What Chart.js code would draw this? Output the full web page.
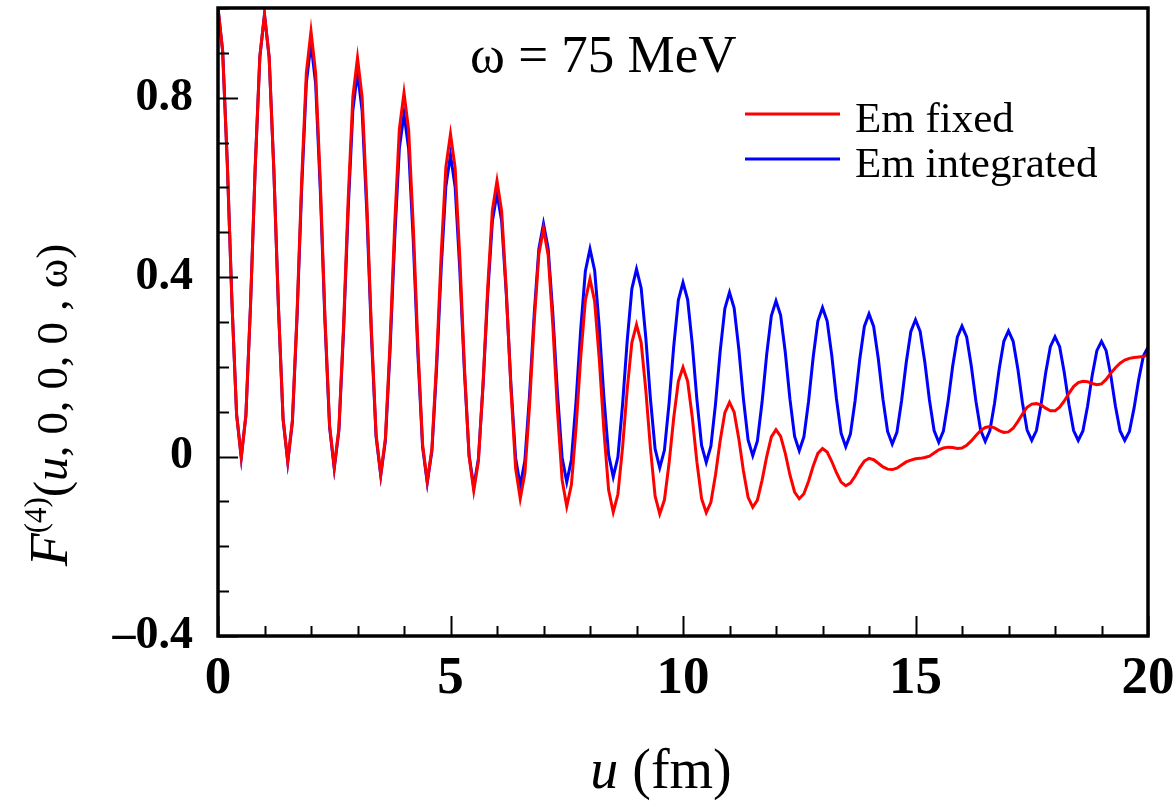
<!DOCTYPE html>
<html>
<head>
<meta charset="utf-8">
<script src="https://cdn.jsdelivr.net/npm/chart.js@4.4.1/dist/chart.umd.min.js"></script>
<style>
  html, body { margin: 0; padding: 0; background: #ffffff; }
  #c { display: block; }
</style>
</head>
<body>
<canvas id="c" width="1175" height="801"></canvas>
<script>
// ---------------- data ----------------
const uValues = [
  0.0, 0.1, 0.2, 0.3, 0.4, 0.5, 0.6, 0.7, 0.8, 0.9,
  1.0, 1.1, 1.2, 1.3, 1.4, 1.5, 1.6, 1.7, 1.8, 1.9,
  2.0, 2.1, 2.2, 2.3, 2.4, 2.5, 2.6, 2.7, 2.8, 2.9,
  3.0, 3.1, 3.2, 3.3, 3.4, 3.5, 3.6, 3.7, 3.8, 3.9,
  4.0, 4.1, 4.2, 4.3, 4.4, 4.5, 4.6, 4.7, 4.8, 4.9,
  5.0, 5.1, 5.2, 5.3, 5.4, 5.5, 5.6, 5.7, 5.8, 5.9,
  6.0, 6.1, 6.2, 6.3, 6.4, 6.5, 6.6, 6.7, 6.8, 6.9,
  7.0, 7.1, 7.2, 7.3, 7.4, 7.5, 7.6, 7.7, 7.8, 7.9,
  8.0, 8.1, 8.2, 8.3, 8.4, 8.5, 8.6, 8.7, 8.8, 8.9,
  9.0, 9.1, 9.2, 9.3, 9.4, 9.5, 9.6, 9.7, 9.8, 9.9,
  10.0, 10.1, 10.2, 10.3, 10.4, 10.5, 10.6, 10.7, 10.8, 10.9,
  11.0, 11.1, 11.2, 11.3, 11.4, 11.5, 11.6, 11.7, 11.8, 11.9,
  12.0, 12.1, 12.2, 12.3, 12.4, 12.5, 12.6, 12.7, 12.8, 12.9,
  13.0, 13.1, 13.2, 13.3, 13.4, 13.5, 13.6, 13.7, 13.8, 13.9,
  14.0, 14.1, 14.2, 14.3, 14.4, 14.5, 14.6, 14.7, 14.8, 14.9,
  15.0, 15.1, 15.2, 15.3, 15.4, 15.5, 15.6, 15.7, 15.8, 15.9,
  16.0, 16.1, 16.2, 16.3, 16.4, 16.5, 16.6, 16.7, 16.8, 16.9,
  17.0, 17.1, 17.2, 17.3, 17.4, 17.5, 17.6, 17.7, 17.8, 17.9,
  18.0, 18.1, 18.2, 18.3, 18.4, 18.5, 18.6, 18.7, 18.8, 18.9,
  19.0, 19.1, 19.2, 19.3, 19.4, 19.5, 19.6, 19.7, 19.8, 19.9,
  20.0
];

const emFixed = [
  1.000, 0.904, 0.654, 0.344, 0.094, -0.002, 0.092, 0.339, 0.645, 0.892,
  0.986, 0.891, 0.642, 0.334, 0.084, -0.011, 0.081, 0.320, 0.617, 0.856,
  0.948, 0.855, 0.612, 0.312, 0.069, -0.024, 0.063, 0.291, 0.574, 0.802,
  0.889, 0.800, 0.568, 0.281, 0.049, -0.040, 0.041, 0.254, 0.517, 0.730,
  0.811, 0.728, 0.512, 0.244, 0.027, -0.056, 0.018, 0.212, 0.451, 0.645,
  0.719, 0.643, 0.444, 0.199, 0.000, -0.076, -0.010, 0.163, 0.376, 0.549,
  0.615, 0.547, 0.370, 0.151, -0.026, -0.094, -0.037, 0.114, 0.300, 0.451,
  0.508, 0.449, 0.294, 0.103, -0.052, -0.111, -0.063, 0.064, 0.221, 0.348,
  0.396, 0.346, 0.216, 0.056, -0.074, -0.124, -0.084, 0.020, 0.150, 0.254,
  0.294, 0.254, 0.148, 0.018, -0.088, -0.128, -0.097, -0.015, 0.086, 0.168,
  0.199, 0.168, 0.087, -0.013, -0.094, -0.125, -0.102, -0.040, 0.036, 0.098,
  0.121, 0.099, 0.040, -0.032, -0.091, -0.113, -0.097, -0.053, 0.000, 0.044,
  0.060, 0.045, 0.007, -0.041, -0.079, -0.094, -0.083, -0.055, -0.021, 0.007,
  0.018, 0.010, -0.011, -0.036, -0.057, -0.065, -0.059, -0.044, -0.025, -0.010,
  -0.004, -0.007, -0.015, -0.023, -0.028, -0.029, -0.026, -0.019, -0.012, -0.008,
  -0.005, -0.004, -0.002, 0.001, 0.008, 0.015, 0.019, 0.021, 0.020, 0.018,
  0.019, 0.025, 0.035, 0.047, 0.058, 0.065, 0.067, 0.064, 0.058, 0.054,
  0.055, 0.063, 0.078, 0.095, 0.110, 0.117, 0.118, 0.115, 0.108, 0.102,
  0.102, 0.110, 0.124, 0.141, 0.156, 0.165, 0.168, 0.167, 0.163, 0.160,
  0.162, 0.172, 0.186, 0.198, 0.208, 0.215, 0.219, 0.221, 0.222, 0.223,
  0.227
];

const emIntegrated = [
  1.000, 0.904, 0.654, 0.344, 0.094, -0.002, 0.092, 0.339, 0.644, 0.891,
  0.985, 0.890, 0.641, 0.332, 0.083, -0.012, 0.077, 0.311, 0.599, 0.833,
  0.922, 0.831, 0.594, 0.302, 0.065, -0.026, 0.058, 0.279, 0.551, 0.772,
  0.856, 0.770, 0.546, 0.268, 0.044, -0.042, 0.035, 0.236, 0.486, 0.687,
  0.764, 0.686, 0.480, 0.226, 0.021, -0.058, 0.012, 0.194, 0.420, 0.602,
  0.672, 0.601, 0.416, 0.188, 0.003, -0.068, -0.005, 0.158, 0.361, 0.524,
  0.587, 0.525, 0.362, 0.160, -0.003, -0.065, -0.009, 0.137, 0.317, 0.463,
  0.519, 0.464, 0.320, 0.142, -0.002, -0.057, -0.007, 0.123, 0.283, 0.413,
  0.463, 0.415, 0.288, 0.131, 0.004, -0.045, -0.001, 0.115, 0.258, 0.374,
  0.418, 0.376, 0.265, 0.128, 0.017, -0.025, 0.014, 0.118, 0.245, 0.349,
  0.388, 0.350, 0.250, 0.126, 0.025, -0.013, 0.023, 0.118, 0.235, 0.330,
  0.366, 0.331, 0.240, 0.128, 0.037, 0.002, 0.035, 0.121, 0.228, 0.314,
  0.347, 0.315, 0.232, 0.128, 0.045, 0.013, 0.044, 0.123, 0.222, 0.302,
  0.332, 0.302, 0.225, 0.129, 0.052, 0.022, 0.050, 0.124, 0.216, 0.290,
  0.318, 0.290, 0.218, 0.128, 0.056, 0.028, 0.054, 0.124, 0.209, 0.279,
  0.305, 0.279, 0.211, 0.126, 0.058, 0.032, 0.057, 0.122, 0.202, 0.266,
  0.291, 0.267, 0.202, 0.123, 0.059, 0.034, 0.058, 0.119, 0.195, 0.257,
  0.280, 0.257, 0.196, 0.120, 0.059, 0.036, 0.058, 0.116, 0.187, 0.245,
  0.267, 0.245, 0.187, 0.116, 0.058, 0.036, 0.057, 0.112, 0.181, 0.236,
  0.257, 0.236, 0.181, 0.112, 0.057, 0.036, 0.056, 0.108, 0.172, 0.224,
  0.244
];

const seriesLabels = ['Em fixed', 'Em integrated'];
const seriesColors = ['#ff0000', '#0000ff'];
const xTickValues = [0, 5, 10, 15, 20];
const xTickLabels = ['0', '5', '10', '15', '20'];
const yTickValues = [-0.4, 0, 0.4, 0.8];
const yTickLabels = ['\u20130.4', '0', '0.4', '0.8'];
const annotationText = '\u03C9 = 75 MeV';
const xTitleItalic = 'u';
const xTitleRest = ' (fm)';
const yTitleParts = [
  { t: 'F', style: 'italic', size: 54, raise: 0 },
  { t: '(4)', style: 'normal', size: 31, raise: 21 },
  { t: '(', style: 'normal', size: 48, raise: 0 },
  { t: 'u', style: 'italic', size: 48, raise: 0 },
  { t: ', 0, 0, 0 , \u03C9)', style: 'normal', size: 45, raise: 0 }
];

// ---------------- chart ----------------
const SERIF = '"Liberation Serif", "Times New Roman", serif';

function near(a, b) { return Math.abs(a - b) < 1e-6; }

function zeroPad(s) {
  s.paddingTop = 0; s.paddingBottom = 0; s.paddingLeft = 0; s.paddingRight = 0;
}

const decorPlugin = {
  id: 'decor',
  beforeDraw(chart) {
    const ctx = chart.ctx;
    ctx.save();
    ctx.fillStyle = '#ffffff';
    ctx.fillRect(0, 0, chart.width, chart.height);
    ctx.restore();
  },
  afterDraw(chart) {
    const ctx = chart.ctx;
    const a = chart.chartArea;
    const xs = chart.scales.x, ys = chart.scales.y;
    ctx.save();
    // inward ticks
    ctx.strokeStyle = '#000000';
    ctx.lineWidth = 2;
    xs.ticks.forEach(t => {
      const px = Math.round(xs.getPixelForValue(t.value)) + 0.5;
      const major = xTickValues.some(v => near(v, t.value));
      const len = major ? 20 : 10;
      ctx.beginPath();
      ctx.moveTo(px, a.bottom);
      ctx.lineTo(px, a.bottom - len);
      ctx.stroke();
    });
    ys.ticks.forEach(t => {
      const py = Math.round(ys.getPixelForValue(t.value)) + 0.5;
      const major = yTickValues.some(v => near(v, t.value));
      const len = major ? 20 : 11;
      ctx.beginPath();
      ctx.moveTo(a.left, py);
      ctx.lineTo(a.left + len, py);
      ctx.stroke();
    });
    // frame
    ctx.lineWidth = 3.5;
    ctx.strokeRect(a.left, a.top, a.right - a.left, a.bottom - a.top);

    // annotation
    ctx.fillStyle = '#000000';
    ctx.textBaseline = 'alphabetic';
    ctx.textAlign = 'left';
    ctx.font = 'normal 53px ' + SERIF;
    ctx.fillText(annotationText, 470, 72);

    // legend
    const legX0 = 745, legX1 = 840, legTextX = 855;
    const legY = [114, 159];
    chart.data.datasets.forEach((ds, i) => {
      ctx.strokeStyle = ds.borderColor;
      ctx.lineWidth = 3;
      ctx.beginPath();
      ctx.moveTo(legX0, legY[i]);
      ctx.lineTo(legX1, legY[i]);
      ctx.stroke();
      ctx.fillStyle = '#000000';
      ctx.font = 'normal 43px ' + SERIF;
      ctx.fillText(ds.label, legTextX, legY[i] + 18);
    });

    // x title
    ctx.font = 'italic 56px ' + SERIF;
    const wU = ctx.measureText(xTitleItalic).width;
    ctx.font = 'normal 56px ' + SERIF;
    const wR = ctx.measureText(xTitleRest).width;
    const xStart = 661 - (wU + wR) / 2;
    ctx.font = 'italic 56px ' + SERIF;
    ctx.fillText(xTitleItalic, xStart, 788);
    ctx.font = 'normal 56px ' + SERIF;
    ctx.fillText(xTitleRest, xStart + wU, 788);

    // y title (rotated)
    let total = 0;
    yTitleParts.forEach(p => {
      ctx.font = p.style + ' ' + p.size + 'px ' + SERIF;
      p.w = ctx.measureText(p.t).width;
      total += p.w;
    });
    ctx.translate(67, 405);
    ctx.rotate(-Math.PI / 2);
    let x = -total / 2;
    yTitleParts.forEach(p => {
      ctx.font = p.style + ' ' + p.size + 'px ' + SERIF;
      ctx.fillText(p.t, x, -p.raise);
      x += p.w;
    });
    ctx.restore();
  }
};

const datasets = [
  {
    label: seriesLabels[0],
    data: uValues.map((u, i) => ({ x: u, y: emFixed[i] })),
    borderColor: seriesColors[0],
    borderWidth: 3,
    pointRadius: 0,
    tension: 0,
    fill: false
  },
  {
    label: seriesLabels[1],
    data: uValues.map((u, i) => ({ x: u, y: emIntegrated[i] })),
    borderColor: seriesColors[1],
    borderWidth: 3,
    pointRadius: 0,
    tension: 0,
    fill: false
  }
];

new Chart(document.getElementById('c'), {
  type: 'line',
  data: { datasets },
  options: {
    responsive: false,
    animation: false,
    devicePixelRatio: 1,
    layout: { padding: { top: 8, right: 27, left: 0, bottom: 0 } },
    plugins: { legend: { display: false }, tooltip: { enabled: false }, title: { display: false } },
    scales: {
      x: {
        type: 'linear',
        min: 0, max: 20,
        grid: { display: false, drawTicks: false },
        border: { display: false },
        ticks: {
          stepSize: 1,
          autoSkip: false,
          maxRotation: 0,
          padding: 12,
          color: '#000000',
          font: { family: SERIF, weight: 'bold', size: 53 },
          callback: (v) => {
            const k = xTickValues.findIndex(t => near(t, v));
            return k >= 0 ? xTickLabels[k] : '';
          }
        },
        afterFit: (s) => { s.height = 165; zeroPad(s); }
      },
      y: {
        type: 'linear',
        min: -0.4, max: 1.0,
        grid: { display: false, drawTicks: false },
        border: { display: false },
        ticks: {
          stepSize: 0.1,
          autoSkip: false,
          padding: 25,
          color: '#000000',
          font: { family: SERIF, weight: 'bold', size: 46 },
          callback: (v) => {
            const k = yTickValues.findIndex(t => near(t, v));
            return k >= 0 ? yTickLabels[k] : '';
          }
        },
        afterFit: (s) => { s.width = 218; zeroPad(s); }
      }
    }
  },
  plugins: [decorPlugin]
});
</script>
</body>
</html>
